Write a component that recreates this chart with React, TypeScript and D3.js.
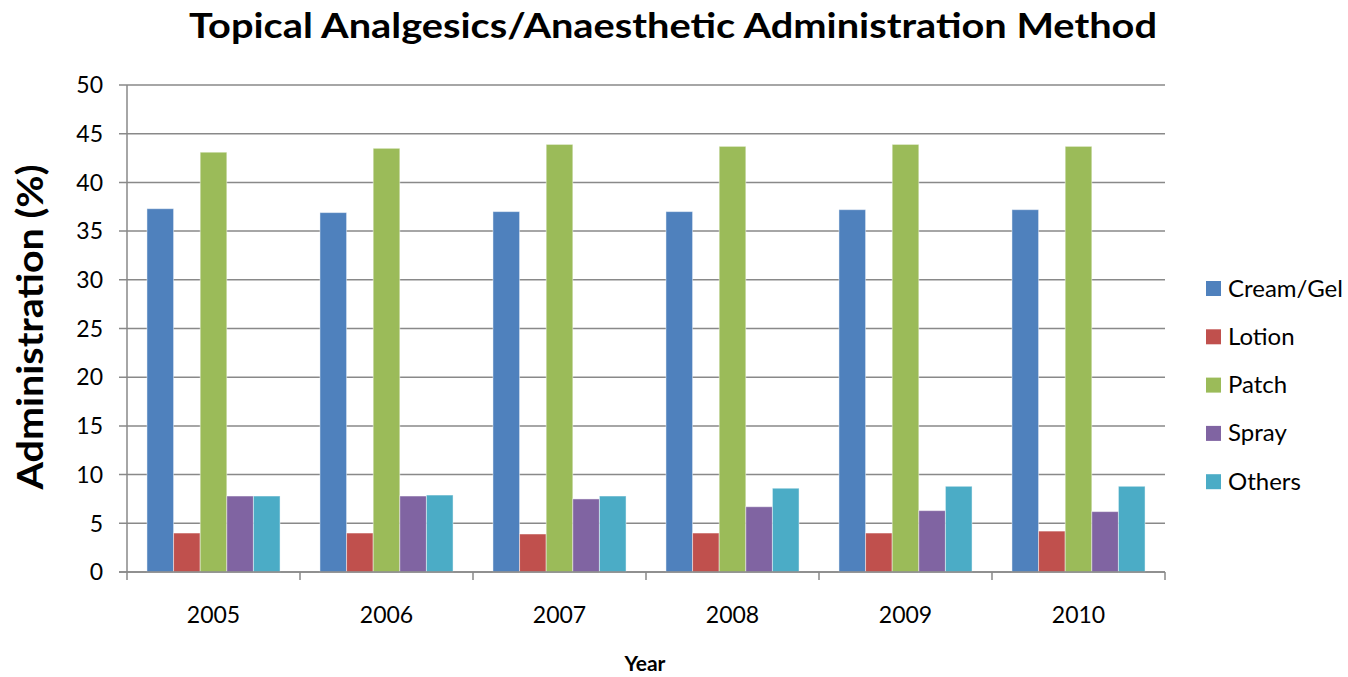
import React, { useEffect } from 'react';
import * as d3 from 'd3';

// chart data
const years = ['2005', '2006', '2007', '2008', '2009', '2010'];
const seriesNames = ['Cream/Gel', 'Lotion', 'Patch', 'Spray', 'Others'];
const seriesColors = ['#4F81BD', '#C0504D', '#9BBB59', '#8064A2', '#4BACC6'];

const creamGel = [37.3, 36.9, 37.0, 37.0, 37.2, 37.2];
const lotion = [4.0, 4.0, 3.9, 4.0, 4.0, 4.2];
const patch = [43.1, 43.5, 43.9, 43.7, 43.9, 43.7];
const spray = [7.8, 7.8, 7.5, 6.7, 6.3, 6.2];
const others = [7.8, 7.9, 7.8, 8.6, 8.8, 8.8];

const yTicks = [0, 5, 10, 15, 20, 25, 30, 35, 40, 45, 50];

const seriesValues = [creamGel, lotion, patch, spray, others];

const WIDTH = 1348;
const HEIGHT = 677;
const FONT = 'Lato, "Open Sans", sans-serif';

export default function App() {
  useEffect(() => {
    document.body.style.margin = '0';
  }, []);

  const margin = { top: 85, right: 183, bottom: 105, left: 127 };
  const innerW = WIDTH - margin.left - margin.right;
  const innerH = HEIGHT - margin.top - margin.bottom;

  const x0 = d3.scaleBand<string>().domain(years).range([0, innerW]).padding(0);
  // Excel-like gap width of 150% between groups
  const x1 = d3
    .scaleBand<string>()
    .domain(seriesNames)
    .range([0, x0.bandwidth()])
    .paddingInner(0)
    .paddingOuter(0.75);
  const y = d3.scaleLinear().domain([0, 50]).range([innerH, 0]);

  return (
    <svg width={WIDTH} height={HEIGHT} style={{ display: 'block', background: '#fff' }}>
      {/* title */}
      <text
        x={189}
        y={38}
        fontFamily={FONT}
        fontWeight="bold"
        fontSize={35}
        textLength={968}
        lengthAdjust="spacingAndGlyphs"
        fill="#000"
      >
        Topical Analgesics/Anaesthetic Administration Method
      </text>

      <g transform={`translate(${margin.left},${margin.top})`}>
        {/* gridlines + y ticks */}
        {yTicks.map((t) => (
          <g key={t} transform={`translate(0,${y(t)})`}>
            <line x1={-8} x2={innerW} stroke="#898989" strokeWidth={1.5} />
            <text
              x={-24}
              dy="0.36em"
              textAnchor="end"
              fontFamily={FONT}
              fontSize={23}
              fill="#000"
            >
              {t}
            </text>
          </g>
        ))}

        {/* bars */}
        {years.map((yr, i) => (
          <g key={yr} transform={`translate(${x0(yr)},0)`}>
            {seriesNames.map((s, j) => {
              const v = seriesValues[j][i];
              return (
                <rect
                  key={s}
                  x={x1(s)}
                  y={y(v)}
                  width={x1.bandwidth()}
                  height={y(0) - y(v)}
                  fill={seriesColors[j]}
                  stroke="#ffffff"
                  strokeOpacity={0.45}
                  strokeWidth={1}
                />
              );
            })}
          </g>
        ))}

        {/* axis lines */}
        <line x1={0} x2={0} y1={0} y2={innerH} stroke="#898989" strokeWidth={1.5} />
        <line x1={-8} x2={innerW} y1={innerH} y2={innerH} stroke="#898989" strokeWidth={1.5} />
        {/* x tick marks at category boundaries */}
        {years.concat(['end']).map((yr, i) => {
          const xp = i < years.length ? (x0(yr) as number) : innerW;
          return (
            <line
              key={yr}
              x1={xp}
              x2={xp}
              y1={innerH}
              y2={innerH + 8}
              stroke="#898989"
              strokeWidth={1.5}
            />
          );
        })}
        {/* x labels */}
        {years.map((yr) => (
          <text
            key={yr}
            x={(x0(yr) as number) + x0.bandwidth() / 2}
            y={623 - margin.top}
            textAnchor="middle"
            fontFamily={FONT}
            fontSize={23}
            fill="#000"
          >
            {yr}
          </text>
        ))}
        <text
          x={645 - margin.left}
          y={671 - margin.top}
          textAnchor="middle"
          fontFamily={FONT}
          fontWeight="bold"
          fontSize={21}
          fill="#000"
        >
          Year
        </text>
      </g>

      {/* y axis title */}
      <text
        transform="translate(43,327) rotate(-90)"
        textAnchor="middle"
        fontFamily={FONT}
        fontWeight="bold"
        fontSize={37}
        textLength={325}
        lengthAdjust="spacingAndGlyphs"
        fill="#000"
      >
        Administration (%)
      </text>

      {/* legend */}
      {seriesNames.map((s, j) => (
        <g key={s} transform={`translate(1206,${288.5 + j * 48.3})`}>
          <rect x={0} y={-7.5} width={15} height={15} fill={seriesColors[j]} />
          <text x={22} y={8} fontFamily={FONT} fontSize={24} fill="#000">
            {s}
          </text>
        </g>
      ))}
    </svg>
  );
}
